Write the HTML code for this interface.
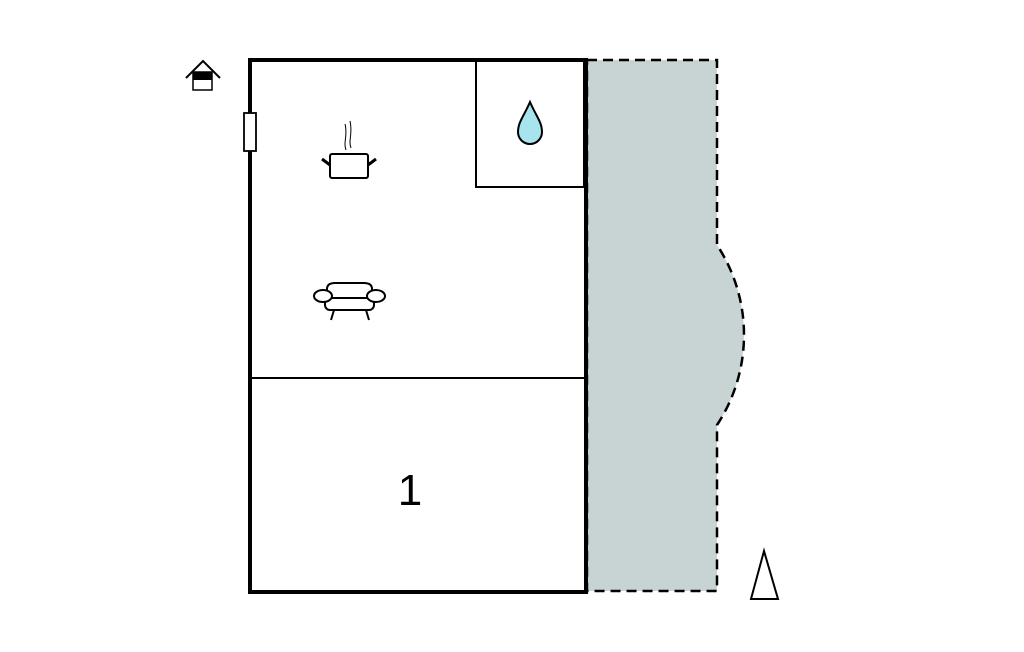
<!DOCTYPE html>
<html><head><style>html,body{margin:0;padding:0;background:#fff;}svg{display:block}</style></head>
<body>
<svg width="1024" height="652" viewBox="0 0 1024 652" xmlns="http://www.w3.org/2000/svg">
<path d="M587,60 L717,60 L717,245 A163.5,163.5 0 0 1 717,425 L717,591 L587,591 Z" fill="#c8d4d4" stroke="#000" stroke-width="2.5" stroke-dasharray="10,6"/>
<rect x="250" y="60" width="336" height="532" fill="#fff" stroke="#000" stroke-width="4"/>
<rect x="476" y="61" width="108" height="126" fill="none" stroke="#000" stroke-width="2"/>
<line x1="251" y1="378" x2="585" y2="378" stroke="#000" stroke-width="2"/>
<rect x="244" y="113" width="12" height="38" fill="#fff" stroke="#000" stroke-width="1.8"/>
<polyline points="186,78 203,61 220,78" fill="none" stroke="#000" stroke-width="2"/>
<rect x="193" y="72" width="19" height="18" fill="#fff" stroke="#000" stroke-width="1.5"/>
<rect x="193" y="72" width="19" height="8" fill="#000"/>
<path d="M530,102 C524,116 518,122 518,132 A12,12 0 0 0 542,132 C542,122 536,116 530,102 Z" fill="#a8e4ee" stroke="#000" stroke-width="2"/>
<rect x="330" y="154" width="38" height="24" rx="2" fill="#fff" stroke="#000" stroke-width="2"/>
<line x1="322" y1="159" x2="330" y2="165" stroke="#000" stroke-width="3"/>
<line x1="376" y1="159" x2="368" y2="165" stroke="#000" stroke-width="3"/>
<path d="M346,150 C343,142 348,136 345,124 M351,148 C348,140 353,134 350,121" fill="none" stroke="#000" stroke-width="1"/>
<g fill="#fff" stroke="#000" stroke-width="2">
<path d="M327,298 L327,289 Q327,283 335,283 L364,283 Q372,283 372,289 L372,298"/>
<rect x="325" y="298" width="49" height="12" rx="5"/>
<ellipse cx="323" cy="296" rx="9" ry="6"/>
<ellipse cx="376" cy="296" rx="9" ry="6"/>
<line x1="334" y1="310" x2="331" y2="320"/>
<line x1="366" y1="310" x2="369" y2="320"/>
</g>
<text x="410" y="505" font-family="Liberation Sans, sans-serif" font-size="44" text-anchor="middle">1</text>
<polygon points="764,551 751,599 778,599" fill="#fff" stroke="#000" stroke-width="2"/>
</svg>
</body></html>
